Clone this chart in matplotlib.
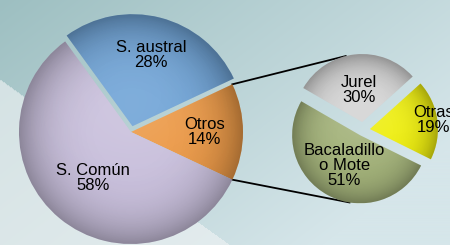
import numpy as np
import matplotlib.pyplot as plt
from matplotlib.colors import to_rgb

plt.rcParams['font.family'] = ['Liberation Sans', 'DejaVu Sans']

# main pie
main_labels = ['Otros', 'S. austral', 'S. Común']
main_values = [14, 28, 58]
main_colors = ['#ec9a48', '#6fa3d6', '#c9c0dc']

# breakdown of "Otros"
sub_labels = ['Jurel', 'Bacaladillo\no Mote', 'Otras']
sub_values = [30, 51, 19]
sub_colors = ['#d4d4d4', '#a3b27a', '#eeee10']

W, H = 450, 245
fig = plt.figure(figsize=(4.5, 2.45), dpi=100)

# background
bg = fig.add_axes([0, 0, 1, 1])
yy, xx = np.mgrid[0:H, 0:W]
t = np.clip(xx / W * 0.7 + yy / H * 0.5, 0, 1)[..., None]
c0 = np.array(to_rgb('#9dbfc1'))
c1 = np.array(to_rgb('#d6e6ea'))
img = c0 * (1 - t) + c1 * t
light = (yy - 80) > xx * (165 / 230)
img[light] = img[light] * 0.35 + np.array(to_rgb('#eef2f3')) * 0.65
bg.imshow(img, extent=[0, W, 0, H], aspect='auto')
bg.set_axis_off()

ax = fig.add_axes([0, 0, 1, 1])
ax.set_xlim(0, W)
ax.set_ylim(0, H)
ax.set_aspect('equal')
ax.set_axis_off()


def shade(wedges):
    # fake the bevelled 3d look: darker rim, a bit of light on top
    gy, gx = np.mgrid[-1:1:200j, -1:1:200j]
    d = np.clip(np.sqrt(gx ** 2 + gy ** 2), 0, 1)
    dark = np.zeros((200, 200, 4))
    dark[..., 3] = 0.3 * d ** 4
    lite = np.ones((200, 200, 4))
    lite[..., 3] = np.clip(0.18 * (1 - d) * (0.6 + gy), 0, 0.2)
    for w in wedges:
        cx, cy = w.center
        r = w.r
        for layer in (dark, lite):
            im = ax.imshow(layer, extent=[cx - r, cx + r, cy - r, cy + r], origin='lower',
                           zorder=w.get_zorder() + 0.1, interpolation='bilinear')
            im.set_clip_path(w)


main_r = 112
start = -main_values[0] / 100 * 360 / 2
w1, _ = ax.pie(main_values, colors=main_colors, radius=main_r, center=(131, 113),
               startangle=start, explode=[0, 6, 0], frame=True,
               wedgeprops=dict(linewidth=0))
shade(w1)
main_pos = [0.66, 0.66, 0.53]
for w, lab, v, d in zip(w1, main_labels, main_values, main_pos):
    th = np.deg2rad((w.theta1 + w.theta2) / 2)
    cx, cy = w.center
    ax.text(cx + d * w.r * np.cos(th), cy + d * w.r * np.sin(th), f'{lab}\n{v}%',
            ha='center', va='center', fontsize=12, linespacing=1.0, zorder=5)

sub_r = 68
w2, _ = ax.pie(sub_values, colors=sub_colors, radius=sub_r, center=(363, 115),
               startangle=42, explode=[8, 6, 7], frame=True,
               wedgeprops=dict(linewidth=0))
shade(w2)
sub_pos = [0.48, 0.5, 0.95]
for w, lab, v, d in zip(w2, sub_labels, sub_values, sub_pos):
    th = np.deg2rad((w.theta1 + w.theta2) / 2)
    cx, cy = w.center
    ax.text(cx + d * w.r * np.cos(th), cy + d * w.r * np.sin(th), f'{lab}\n{v}%',
            ha='center', va='center', fontsize=12, linespacing=1.0, zorder=5)

# connector lines from "Otros" to the breakdown pie
ow = w1[0]
for a_main, wd, a_sub in [(ow.theta2, w2[0], 104), (ow.theta1, w2[1], 261)]:
    ox, oy = ow.center
    x0 = ox + ow.r * np.cos(np.deg2rad(a_main))
    y0 = oy + ow.r * np.sin(np.deg2rad(a_main))
    sx, sy = wd.center
    x1 = sx + wd.r * np.cos(np.deg2rad(a_sub))
    y1 = sy + wd.r * np.sin(np.deg2rad(a_sub))
    ax.plot([x0, x1], [y0, y1], color='black', lw=1.3, zorder=0.5)

ax.set_xlim(0, W)
ax.set_ylim(0, H)
ax.set_axis_off()

fig.savefig('out.png', dpi=100)
